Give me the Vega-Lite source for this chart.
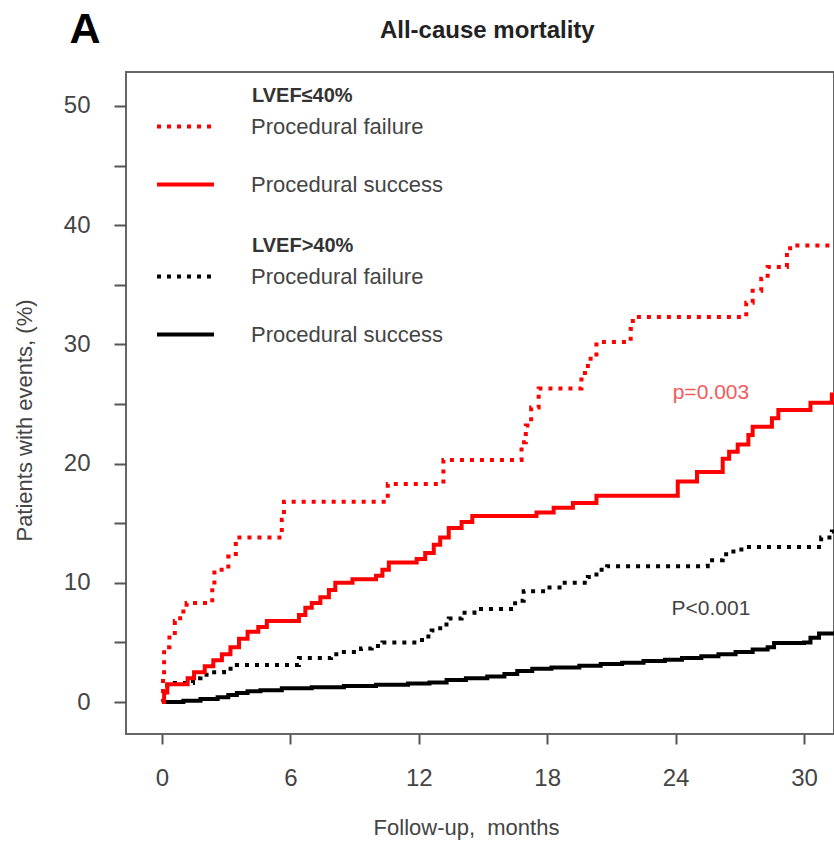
{
  "$schema": "https://vega.github.io/schema/vega-lite/v6.json",
  "width": 708,
  "height": 662,
  "autosize": {"type": "none"},
  "padding": {"left": 126, "top": 72, "right": 0, "bottom": 107},
  "background": "white",
  "datasets": {
    "km": [
      {"lvef": "low", "group": "Procedural failure", "month": 0, "pct": 0},
      {"lvef": "low", "group": "Procedural failure", "month": 0.05, "pct": 2.3},
      {"lvef": "low", "group": "Procedural failure", "month": 0.1, "pct": 4.6},
      {"lvef": "low", "group": "Procedural failure", "month": 0.35, "pct": 5.8},
      {"lvef": "low", "group": "Procedural failure", "month": 0.6, "pct": 6.8},
      {"lvef": "low", "group": "Procedural failure", "month": 0.85, "pct": 7.6},
      {"lvef": "low", "group": "Procedural failure", "month": 1.15, "pct": 8.3},
      {"lvef": "low", "group": "Procedural failure", "month": 2.35, "pct": 9.7},
      {"lvef": "low", "group": "Procedural failure", "month": 2.45, "pct": 11.1},
      {"lvef": "low", "group": "Procedural failure", "month": 3.1, "pct": 12.2},
      {"lvef": "low", "group": "Procedural failure", "month": 3.45, "pct": 13.8},
      {"lvef": "low", "group": "Procedural failure", "month": 5.6, "pct": 15.3},
      {"lvef": "low", "group": "Procedural failure", "month": 5.7, "pct": 16.8},
      {"lvef": "low", "group": "Procedural failure", "month": 10.55, "pct": 18.3},
      {"lvef": "low", "group": "Procedural failure", "month": 13.15, "pct": 20.3},
      {"lvef": "low", "group": "Procedural failure", "month": 16.8, "pct": 21.8},
      {"lvef": "low", "group": "Procedural failure", "month": 17.0, "pct": 23.2},
      {"lvef": "low", "group": "Procedural failure", "month": 17.25, "pct": 24.7},
      {"lvef": "low", "group": "Procedural failure", "month": 17.6, "pct": 26.3},
      {"lvef": "low", "group": "Procedural failure", "month": 19.6, "pct": 27.6},
      {"lvef": "low", "group": "Procedural failure", "month": 19.9, "pct": 28.8},
      {"lvef": "low", "group": "Procedural failure", "month": 20.3, "pct": 30.2},
      {"lvef": "low", "group": "Procedural failure", "month": 21.9, "pct": 31.3},
      {"lvef": "low", "group": "Procedural failure", "month": 22.0, "pct": 32.3},
      {"lvef": "low", "group": "Procedural failure", "month": 27.3, "pct": 33.5},
      {"lvef": "low", "group": "Procedural failure", "month": 27.6, "pct": 34.5},
      {"lvef": "low", "group": "Procedural failure", "month": 28.0, "pct": 35.5},
      {"lvef": "low", "group": "Procedural failure", "month": 28.3, "pct": 36.5},
      {"lvef": "low", "group": "Procedural failure", "month": 29.2, "pct": 37.5},
      {"lvef": "low", "group": "Procedural failure", "month": 29.35, "pct": 38.3},
      {"lvef": "low", "group": "Procedural failure", "month": 31.6, "pct": 38.3},
      {"lvef": "low", "group": "Procedural success", "month": 0, "pct": 0},
      {"lvef": "low", "group": "Procedural success", "month": 0.1, "pct": 0.8},
      {"lvef": "low", "group": "Procedural success", "month": 0.25, "pct": 1.5},
      {"lvef": "low", "group": "Procedural success", "month": 1.2, "pct": 2.0},
      {"lvef": "low", "group": "Procedural success", "month": 1.5, "pct": 2.5},
      {"lvef": "low", "group": "Procedural success", "month": 2.0, "pct": 3.0},
      {"lvef": "low", "group": "Procedural success", "month": 2.4, "pct": 3.5},
      {"lvef": "low", "group": "Procedural success", "month": 2.8, "pct": 4.0},
      {"lvef": "low", "group": "Procedural success", "month": 3.2, "pct": 4.6},
      {"lvef": "low", "group": "Procedural success", "month": 3.6, "pct": 5.3},
      {"lvef": "low", "group": "Procedural success", "month": 4.0, "pct": 5.9},
      {"lvef": "low", "group": "Procedural success", "month": 4.5, "pct": 6.3},
      {"lvef": "low", "group": "Procedural success", "month": 4.9, "pct": 6.8},
      {"lvef": "low", "group": "Procedural success", "month": 6.4, "pct": 7.3},
      {"lvef": "low", "group": "Procedural success", "month": 6.7, "pct": 7.9},
      {"lvef": "low", "group": "Procedural success", "month": 7.0, "pct": 8.3},
      {"lvef": "low", "group": "Procedural success", "month": 7.4, "pct": 8.8},
      {"lvef": "low", "group": "Procedural success", "month": 7.8, "pct": 9.4},
      {"lvef": "low", "group": "Procedural success", "month": 8.1, "pct": 10.0},
      {"lvef": "low", "group": "Procedural success", "month": 8.9, "pct": 10.3},
      {"lvef": "low", "group": "Procedural success", "month": 10.0, "pct": 10.6},
      {"lvef": "low", "group": "Procedural success", "month": 10.3, "pct": 11.1},
      {"lvef": "low", "group": "Procedural success", "month": 10.6, "pct": 11.7},
      {"lvef": "low", "group": "Procedural success", "month": 11.9, "pct": 12.0},
      {"lvef": "low", "group": "Procedural success", "month": 12.3, "pct": 12.5},
      {"lvef": "low", "group": "Procedural success", "month": 12.7, "pct": 13.2},
      {"lvef": "low", "group": "Procedural success", "month": 13.0, "pct": 13.8},
      {"lvef": "low", "group": "Procedural success", "month": 13.4, "pct": 14.6},
      {"lvef": "low", "group": "Procedural success", "month": 14.0, "pct": 15.1},
      {"lvef": "low", "group": "Procedural success", "month": 14.5, "pct": 15.6},
      {"lvef": "low", "group": "Procedural success", "month": 17.5, "pct": 15.9},
      {"lvef": "low", "group": "Procedural success", "month": 18.3, "pct": 16.3},
      {"lvef": "low", "group": "Procedural success", "month": 19.2, "pct": 16.7},
      {"lvef": "low", "group": "Procedural success", "month": 20.3, "pct": 17.3},
      {"lvef": "low", "group": "Procedural success", "month": 24.1, "pct": 18.5},
      {"lvef": "low", "group": "Procedural success", "month": 25.0, "pct": 19.3},
      {"lvef": "low", "group": "Procedural success", "month": 26.2, "pct": 20.4},
      {"lvef": "low", "group": "Procedural success", "month": 26.5, "pct": 21.0},
      {"lvef": "low", "group": "Procedural success", "month": 26.9, "pct": 21.6},
      {"lvef": "low", "group": "Procedural success", "month": 27.4, "pct": 22.4},
      {"lvef": "low", "group": "Procedural success", "month": 27.6, "pct": 23.1},
      {"lvef": "low", "group": "Procedural success", "month": 28.5, "pct": 23.8},
      {"lvef": "low", "group": "Procedural success", "month": 28.8, "pct": 24.5},
      {"lvef": "low", "group": "Procedural success", "month": 30.3, "pct": 25.1},
      {"lvef": "low", "group": "Procedural success", "month": 31.3, "pct": 25.8},
      {"lvef": "low", "group": "Procedural success", "month": 31.6, "pct": 25.8},
      {"lvef": "high", "group": "Procedural failure", "month": 0, "pct": 0},
      {"lvef": "high", "group": "Procedural failure", "month": 0.05, "pct": 0.8},
      {"lvef": "high", "group": "Procedural failure", "month": 0.25, "pct": 1.6},
      {"lvef": "high", "group": "Procedural failure", "month": 1.45, "pct": 2.0},
      {"lvef": "high", "group": "Procedural failure", "month": 1.8, "pct": 2.3},
      {"lvef": "high", "group": "Procedural failure", "month": 2.2, "pct": 2.5},
      {"lvef": "high", "group": "Procedural failure", "month": 2.9, "pct": 2.8},
      {"lvef": "high", "group": "Procedural failure", "month": 3.5, "pct": 3.1},
      {"lvef": "high", "group": "Procedural failure", "month": 6.4, "pct": 3.7},
      {"lvef": "high", "group": "Procedural failure", "month": 7.9, "pct": 4.0},
      {"lvef": "high", "group": "Procedural failure", "month": 8.5, "pct": 4.2},
      {"lvef": "high", "group": "Procedural failure", "month": 9.3, "pct": 4.5},
      {"lvef": "high", "group": "Procedural failure", "month": 9.8, "pct": 4.7},
      {"lvef": "high", "group": "Procedural failure", "month": 10.3, "pct": 5.0},
      {"lvef": "high", "group": "Procedural failure", "month": 12.15, "pct": 5.5},
      {"lvef": "high", "group": "Procedural failure", "month": 12.6, "pct": 6.0},
      {"lvef": "high", "group": "Procedural failure", "month": 13.0, "pct": 6.5},
      {"lvef": "high", "group": "Procedural failure", "month": 13.4, "pct": 7.0},
      {"lvef": "high", "group": "Procedural failure", "month": 14.0, "pct": 7.5},
      {"lvef": "high", "group": "Procedural failure", "month": 14.6, "pct": 7.8},
      {"lvef": "high", "group": "Procedural failure", "month": 16.5, "pct": 8.5},
      {"lvef": "high", "group": "Procedural failure", "month": 16.9, "pct": 9.3},
      {"lvef": "high", "group": "Procedural failure", "month": 18.0, "pct": 9.6},
      {"lvef": "high", "group": "Procedural failure", "month": 18.7, "pct": 10.0},
      {"lvef": "high", "group": "Procedural failure", "month": 19.9, "pct": 10.5},
      {"lvef": "high", "group": "Procedural failure", "month": 20.3, "pct": 11.1},
      {"lvef": "high", "group": "Procedural failure", "month": 20.8, "pct": 11.4},
      {"lvef": "high", "group": "Procedural failure", "month": 25.5, "pct": 11.9},
      {"lvef": "high", "group": "Procedural failure", "month": 26.2, "pct": 12.4},
      {"lvef": "high", "group": "Procedural failure", "month": 26.7, "pct": 12.8},
      {"lvef": "high", "group": "Procedural failure", "month": 27.3, "pct": 13.0},
      {"lvef": "high", "group": "Procedural failure", "month": 30.8, "pct": 13.8},
      {"lvef": "high", "group": "Procedural failure", "month": 31.3, "pct": 14.3},
      {"lvef": "high", "group": "Procedural failure", "month": 31.6, "pct": 14.3},
      {"lvef": "high", "group": "Procedural success", "month": 0, "pct": 0},
      {"lvef": "high", "group": "Procedural success", "month": 1.0, "pct": 0.1},
      {"lvef": "high", "group": "Procedural success", "month": 1.8, "pct": 0.25},
      {"lvef": "high", "group": "Procedural success", "month": 2.6, "pct": 0.4},
      {"lvef": "high", "group": "Procedural success", "month": 3.1, "pct": 0.6},
      {"lvef": "high", "group": "Procedural success", "month": 3.5, "pct": 0.75},
      {"lvef": "high", "group": "Procedural success", "month": 4.0, "pct": 0.9},
      {"lvef": "high", "group": "Procedural success", "month": 4.6, "pct": 1.0},
      {"lvef": "high", "group": "Procedural success", "month": 5.6, "pct": 1.15},
      {"lvef": "high", "group": "Procedural success", "month": 7.0, "pct": 1.25},
      {"lvef": "high", "group": "Procedural success", "month": 8.5, "pct": 1.35},
      {"lvef": "high", "group": "Procedural success", "month": 10.0, "pct": 1.45},
      {"lvef": "high", "group": "Procedural success", "month": 11.5, "pct": 1.55},
      {"lvef": "high", "group": "Procedural success", "month": 12.5, "pct": 1.65},
      {"lvef": "high", "group": "Procedural success", "month": 13.3, "pct": 1.85},
      {"lvef": "high", "group": "Procedural success", "month": 14.2, "pct": 2.0},
      {"lvef": "high", "group": "Procedural success", "month": 15.2, "pct": 2.15},
      {"lvef": "high", "group": "Procedural success", "month": 16.0, "pct": 2.35},
      {"lvef": "high", "group": "Procedural success", "month": 16.6, "pct": 2.6},
      {"lvef": "high", "group": "Procedural success", "month": 17.3, "pct": 2.8},
      {"lvef": "high", "group": "Procedural success", "month": 18.2, "pct": 2.9},
      {"lvef": "high", "group": "Procedural success", "month": 19.5, "pct": 3.05},
      {"lvef": "high", "group": "Procedural success", "month": 20.5, "pct": 3.2},
      {"lvef": "high", "group": "Procedural success", "month": 21.5, "pct": 3.3},
      {"lvef": "high", "group": "Procedural success", "month": 22.5, "pct": 3.45},
      {"lvef": "high", "group": "Procedural success", "month": 23.5, "pct": 3.55},
      {"lvef": "high", "group": "Procedural success", "month": 24.3, "pct": 3.7},
      {"lvef": "high", "group": "Procedural success", "month": 25.2, "pct": 3.85},
      {"lvef": "high", "group": "Procedural success", "month": 26.0, "pct": 4.0},
      {"lvef": "high", "group": "Procedural success", "month": 26.8, "pct": 4.2},
      {"lvef": "high", "group": "Procedural success", "month": 27.6, "pct": 4.4},
      {"lvef": "high", "group": "Procedural success", "month": 28.3, "pct": 4.6},
      {"lvef": "high", "group": "Procedural success", "month": 28.6, "pct": 4.95},
      {"lvef": "high", "group": "Procedural success", "month": 30.0, "pct": 5.0},
      {"lvef": "high", "group": "Procedural success", "month": 30.3, "pct": 5.4},
      {"lvef": "high", "group": "Procedural success", "month": 30.7, "pct": 5.75},
      {"lvef": "high", "group": "Procedural success", "month": 31.6, "pct": 5.8}
    ]
  },
  "layer": [
    {
      "data": {"name": "km"},
      "transform": [{"filter": "datum.lvef === 'high'"}],
      "mark": {"type": "line", "interpolate": "step-after", "strokeWidth": 4, "clip": true},
      "encoding": {
        "x": {"field": "month", "type": "quantitative", "scale": {"domain": [-1.68, 31.4], "nice": false, "zero": false},
              "axis": {"title": "Follow-up,\u00a0 months", "values": [0, 6, 12, 18, 24, 30], "tickSize": 10, "labelPadding": 22, "labelFlush": false, "titleX": 340, "titleY": 100, "titleBaseline": "alphabetic"}},
        "y": {"field": "pct", "type": "quantitative", "scale": {"domain": [-2.68, 52.85], "nice": false, "zero": false},
              "axis": {"title": "Patients with events, (%)", "values": [0, 5, 10, 15, 20, 25, 30, 35, 40, 45, 50], "labelExpr": "datum.value % 10 === 0 ? datum.label : ''", "tickSize": 12, "labelPadding": 24, "titleX": -95, "titleY": 348, "titleBaseline": "alphabetic", "titleAngle": -90}},
        "color": {"field": "group", "type": "nominal", "scale": {"domain": ["Procedural failure", "Procedural success"], "range": ["#000000", "#000000"]},
                  "legend": {"title": "LVEF>40%", "orient": "none", "legendX": 29, "legendY": 164, "encode": {"title": {"update": {"dx": {"value": 97}}}}}},
        "strokeDash": {"field": "group", "type": "nominal", "scale": {"domain": ["Procedural failure", "Procedural success"], "range": [[4, 6], [1, 0]]},
                  "legend": {"title": "LVEF>40%", "orient": "none", "legendX": 29, "legendY": 164, "encode": {"title": {"update": {"dx": {"value": 97}}}}}},
        "detail": {"field": "group"}
      }
    },
    {
      "data": {"name": "km"},
      "transform": [{"filter": "datum.lvef === 'low'"}],
      "mark": {"type": "line", "interpolate": "step-after", "strokeWidth": 4, "clip": true},
      "encoding": {
        "x": {"field": "month", "type": "quantitative"},
        "y": {"field": "pct", "type": "quantitative"},
        "color": {"field": "group", "type": "nominal", "scale": {"domain": ["Procedural failure", "Procedural success"], "range": ["#ff0000", "#ff0000"]},
                  "legend": {"title": "LVEF≤40%", "orient": "none", "legendX": 29, "legendY": 14, "encode": {"title": {"update": {"dx": {"value": 97}}}}}},
        "strokeDash": {"field": "group", "type": "nominal", "scale": {"domain": ["Procedural failure", "Procedural success"], "range": [[4, 6], [1, 0]]},
                  "legend": {"title": "LVEF≤40%", "orient": "none", "legendX": 29, "legendY": 14, "encode": {"title": {"update": {"dx": {"value": 97}}}}}},
        "detail": {"field": "group"}
      }
    },
    {
      "data": {"values": [{"label": "p=0.003"}]},
      "mark": {"type": "text", "fontSize": 21, "font": "Liberation Sans", "color": "#f25b5b", "align": "center", "baseline": "middle"},
      "encoding": {"x": {"datum": 25.65, "type": "quantitative"}, "y": {"datum": 25.9, "type": "quantitative"}, "text": {"field": "label"}}
    },
    {
      "data": {"values": [{"label": "P<0.001"}]},
      "mark": {"type": "text", "fontSize": 21, "font": "Liberation Sans", "color": "#444444", "align": "center", "baseline": "middle"},
      "encoding": {"x": {"datum": 25.65, "type": "quantitative"}, "y": {"datum": 7.8, "type": "quantitative"}, "text": {"field": "label"}}
    },
    {
      "data": {"values": [{"label": "A"}]},
      "mark": {"type": "text", "fontSize": 43, "fontWeight": "bold", "font": "Liberation Sans", "color": "#000000", "align": "center", "baseline": "middle"},
      "encoding": {"x": {"datum": -3.6, "type": "quantitative"}, "y": {"datum": 56.4, "type": "quantitative"}, "text": {"field": "label"}}
    },
    {
      "data": {"values": [{"label": "All-cause mortality"}]},
      "mark": {"type": "text", "fontSize": 24, "fontWeight": "bold", "font": "Liberation Sans", "color": "#222222", "align": "center", "baseline": "middle"},
      "encoding": {"x": {"datum": 15.2, "type": "quantitative"}, "y": {"datum": 56.3, "type": "quantitative"}, "text": {"field": "label"}}
    }
  ],
  "resolve": {"scale": {"color": "independent", "strokeDash": "independent"}, "legend": {"color": "independent", "strokeDash": "independent"}},
  "config": {
    "view": {"stroke": "#666666", "strokeWidth": 2},
    "axis": {"grid": false, "domain": false, "tickColor": "#555555", "tickWidth": 2, "labelColor": "#444444", "labelFont": "Liberation Sans", "labelFontSize": 24, "titleFont": "Liberation Sans", "titleFontSize": 22, "titleColor": "#444444", "titleFontWeight": "normal"},
    "legend": {"symbolType": "stroke", "symbolSize": 3249, "symbolStrokeWidth": 4, "labelFont": "Liberation Sans", "labelFontSize": 22, "labelColor": "#444444", "labelOffset": 35, "labelLimit": 0, "titleFont": "Liberation Sans", "titleFontSize": 20, "titleFontWeight": "bold", "titleColor": "#333333", "padding": 0, "rowPadding": 16, "titlePadding": -10, "titleLimit": 0}
  }
}
